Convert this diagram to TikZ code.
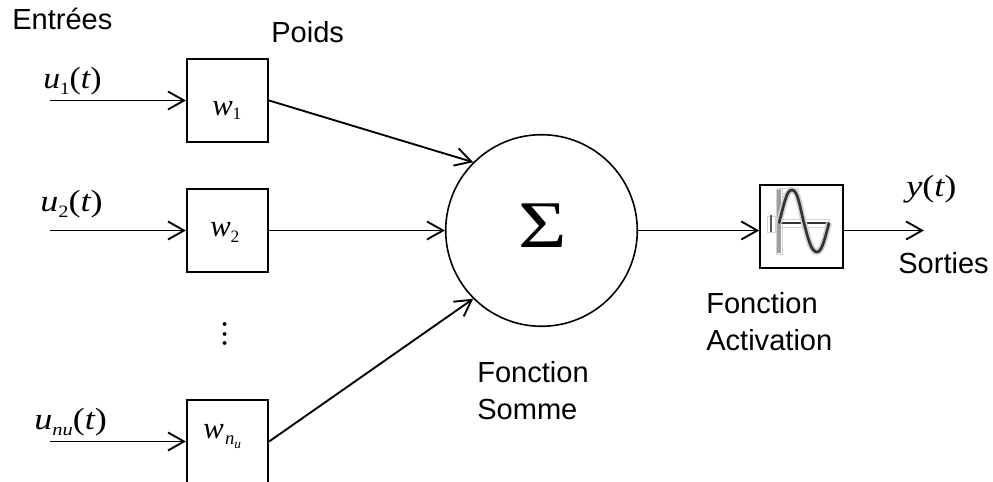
\documentclass[tikz,border=0pt]{standalone}
\usepackage{fontspec}
\usepackage{graphicx}
\setmainfont{Liberation Sans}
\newfontfamily\tms{Liberation Serif}
\usetikzlibrary{arrows.meta}
\newcommand{\bigit}[1]{{\tms\fontsize{23}{23}\selectfont\itshape #1}}
\newcommand{\bigup}[1]{{\tms\fontsize{23}{23}\selectfont #1}}
\newcommand{\subit}[1]{\raisebox{-4.5pt}{\tms\fontsize{13}{13}\selectfont\itshape #1}}
\newcommand{\subup}[2][-5pt]{\raisebox{#1}{\tms\fontsize{13}{13}\selectfont #2}}
\newcommand{\subsub}[1]{\raisebox{-3.5pt}{\tms\fontsize{10}{10}\selectfont\itshape #1}}
\newcommand{\mth}[2][1.18]{\scalebox{#1}[1]{#2}}
\tikzset{
  wbox/.style={draw,line width=1.4pt,minimum width=61pt,minimum height=62pt,inner sep=0pt},
  lab/.style={inner sep=0pt,font=\fontsize{21.8}{27.4}\selectfont,align=left},
  sym/.style={inner sep=0pt},
  conn/.style={line width=1.4pt,-{Straight Barb[length=12pt,width=13.5pt,line width=1.4pt]}},
  halo/.style={gray!35,line width=0.7pt},
}
\begin{document}
\begin{tikzpicture}[x=0.75pt,y=-0.75pt]
\useasboundingbox (0,0) rectangle (993,482);
\clip (0,0) rectangle (993,482);
\fill[white] (0,0) rectangle (993,482);
\node[wbox] (w1) at (227.5,100.5) {};
\node[wbox] (w2) at (227.5,230.5) {};
\node[wbox] (wn) at (227.5,441.5) {};
\node[draw,circle,line width=1.2pt,minimum size=143.7pt,inner sep=0pt] (sum) at (541.5,230.5) {};
\node[wbox,minimum width=62pt] (act) at (801.5,226.5) {};
\coordinate (u1) at (50,100.5);
\coordinate (u2) at (50,230.5);
\coordinate (un) at (50,441.5);
\coordinate (out) at (924,230.5);
\draw[conn] (u1) -- (w1.west);
\draw[conn] (u2) -- (w2.west);
\draw[conn] (un) -- (wn.west);
\draw[conn] (w1.east) -- (sum.north west);
\draw[conn] (w2.east) -- (sum.west);
\draw[conn] (wn.east) -- (sum.south west);
\draw[conn] (sum.east) -- (act.west |- sum.east);
\draw[conn] (act.east |- sum.east) -- (out);
% icon
\draw[halo] (776,189) rectangle (782,254);
\draw[halo] (777,188) rectangle (798,193);
\draw[halo] (779,219) rectangle (829,227);
\draw[halo] (767,216) rectangle (775,232);
\draw[gray!75,line width=2.4pt] (779,190) -- (779,253);
\draw[gray!70!black,line width=1.8pt] (771,215) -- (771,232);
\draw[black!80,line width=1.8pt] (779,223) -- (829,223);
\draw[gray!35,line width=4.6pt] (779,223) .. controls (785,200) and (787,190) .. (792,190) .. controls (798,190) and (800,208) .. (804,223) .. controls (808,238) and (811,252) .. (817,252) .. controls (822,252) and (825,238) .. (829,223);
\draw[black!80,line width=2pt] (779,223) .. controls (785,200) and (787,190) .. (792,190) .. controls (798,190) and (800,208) .. (804,223) .. controls (808,238) and (811,252) .. (817,252) .. controls (822,252) and (825,238) .. (829,223);
% texts
\node[lab,anchor=base west] (t1) at (12,29) {Entrées};
\node[lab,anchor=base west] (t2) at (271,42) {Poids};
\node[lab,anchor=base west] (t3) at (898,273) {Sorties};
\node[lab,anchor=base west] (t4) at (706,350) {Fonction\\Activation};
\node[lab,anchor=base west] (t5) at (477,419) {Fonction\\Somme};
\node[sym,anchor=base west] (s1) at (43,88) {\mth[1.1]{\bigit{u}\subup{1}\bigup{(}\bigit{t}\bigup{)}}};
\node[sym,anchor=base west] (s2) at (40,211) {\mth{\bigit{u}\subup{2}\bigup{(}\bigit{t}\bigup{)}}};
\node[sym,anchor=base west] (s3) at (34,429) {\mth{\bigit{u}\subit{nu}\bigup{(}\bigit{t}\bigup{)}}};
\node[sym,anchor=base west] (s4) at (906,196) {\mth{\bigit{y}\bigup{(}\bigit{t}\bigup{)}}};
\node[sym,anchor=base west] (s5) at (212,115) {\bigit{w}\subup[-3.5pt]{1}};
\node[sym,anchor=base west] (s6) at (210,236) {\bigit{w}\subup{2}};
\node[sym,anchor=base west] (s7) at (203,438) {\bigit{w}\kern1pt\raisebox{-4.5pt}{\tms\fontsize{14}{14}\selectfont\itshape n\subsub{u}}};
\node[sym] (sig) at (543,225.5) {\scalebox{1.25}[1]{\tms\fontsize{50}{50}\selectfont Σ}};
\node[sym,rotate=90,anchor=base] (dots) at (226.5,334) {\tms\fontsize{24}{24}\selectfont .\kern1.3pt.\kern1.3pt.};
\end{tikzpicture}
\end{document}
